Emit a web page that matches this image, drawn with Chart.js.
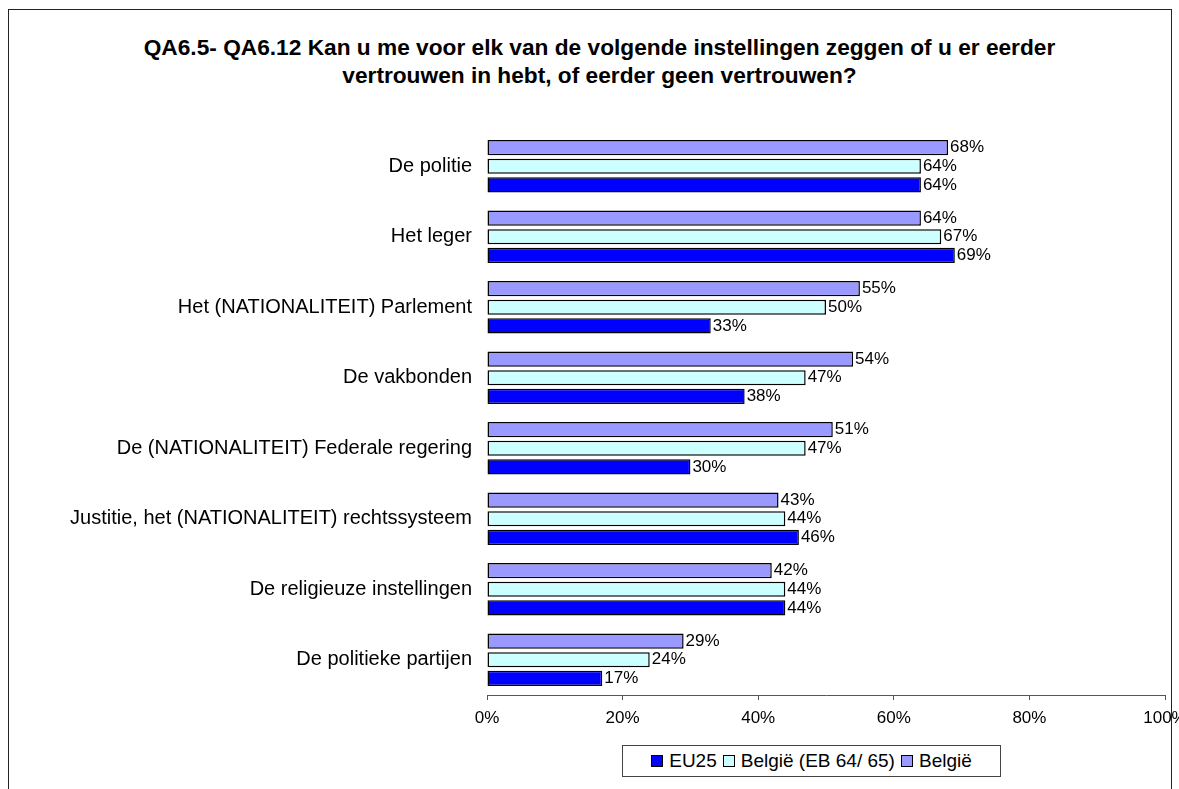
<!DOCTYPE html>
<html>
<head>
<meta charset="utf-8">
<script src="https://cdn.jsdelivr.net/npm/chart.js@4/dist/chart.umd.min.js"></script>
<style>
    html, body { margin: 0; padding: 0; background: #fff; }
    body { width: 1179px; height: 789px; position: relative; overflow: hidden; font-family: "Liberation Sans", Arial, sans-serif; }
    #frame { position: absolute; left: 8px; top: 9px; width: 1162px; height: 820px; border: 1px solid #222; }
    #title { position: absolute; left: 10px; width: 1179px; top: 33px; text-align: center; font-weight: bold; font-size: 22.7px; line-height: 28px; color: #000; }
    #wrap { position: absolute; left: 0; top: 0; width: 1179px; height: 789px; }
    #legend { position: absolute; left: 622px; top: 745px; width: 379px; height: 32px; border: 1px solid #444; box-sizing: border-box;
        display: flex; align-items: center; justify-content: center; font-size: 19px; color: #000; background: #fff; }
    .item { display: flex; align-items: center; margin: 0 3px; }
    .sw { width: 10px; height: 10px; border: 1px solid #000; margin-right: 6px; }
</style>
</head>
<body>
<div id="frame"></div>
<div id="title">QA6.5- QA6.12 Kan u me voor elk van de volgende instellingen zeggen of u er eerder<br>vertrouwen in hebt, of eerder geen vertrouwen?</div>
<div id="wrap"><canvas id="chart" width="1179" height="789"></canvas></div>
<div id="legend"></div>
<script>
// categorieen en waarden
const categories = [
    'De politie',
    'Het leger',
    'Het (NATIONALITEIT) Parlement',
    'De vakbonden',
    'De (NATIONALITEIT) Federale regering',
    'Justitie, het (NATIONALITEIT) rechtssysteem',
    'De religieuze instellingen',
    'De politieke partijen'
];
const belgie = [68, 64, 55, 54, 51, 43, 42, 29];
const belgieEB = [64, 67, 50, 47, 47, 44, 44, 24];
const eu25 = [64, 69, 33, 38, 30, 46, 44, 17];
const xTicks = [0, 20, 40, 60, 80, 100];

const seriesNames = ['België', 'België (EB 64/ 65)', 'EU25'];
const seriesColors = ['#9999FF', '#CCFFFF', '#0000FF'];

// labels met percentage rechts van de balk
const valueLabels = {
    id: 'valueLabels',
    afterDatasetsDraw: (chart) =>
    {
        const { ctx } = chart;
        ctx.save();
        ctx.font = '17px "Liberation Sans", Arial, sans-serif';
        ctx.fillStyle = '#000';
        ctx.textAlign = 'left';
        ctx.textBaseline = 'middle';
        chart.data.datasets.forEach((ds, i) =>
        {
            const meta = chart.getDatasetMeta(i);
            meta.data.forEach((bar, j) =>
            {
                ctx.fillText(ds.data[j] + '%', bar.x + 2, bar.y);
            });
        });
        ctx.restore();
    }
};

const ctx = document.getElementById('chart').getContext('2d');
new Chart(ctx, {
    type: 'bar',
    data: {
        labels: categories,
        datasets: [belgie, belgieEB, eu25].map((d, i) => ({
            label: seriesNames[i],
            data: d,
            backgroundColor: seriesColors[i],
            borderColor: '#000',
            borderWidth: 1.5,
            borderSkipped: false,
            barPercentage: 0.82,
            categoryPercentage: 0.79
        }))
    },
    options: {
        indexAxis: 'y',
        responsive: false,
        animation: false,
        layout: { padding: { top: 131, right: 14, left: 0, bottom: 0 } },
        plugins: {
            legend: { display: false },
            title: { display: false },
            tooltip: { enabled: false }
        },
        scales: {
            x: {
                min: 0,
                max: 100,
                afterFit: (scale) => { scale.height = 94; scale.paddingRight = 0; scale.paddingLeft = 0; },
                afterBuildTicks: (scale) => { scale.ticks = xTicks.map(v => ({ value: v })); },
                grid: { display: true, drawOnChartArea: false, drawTicks: true, tickLength: 5, color: '#555' },
                border: { display: true, color: '#555' },
                ticks: {
                    callback: (v) => v + '%',
                    color: '#000',
                    font: { family: '"Liberation Sans", Arial, sans-serif', size: 17 },
                    padding: 8,
                    maxRotation: 0
                }
            },
            y: {
                afterFit: (scale) => { scale.width = 487; },
                grid: { display: false },
                border: { display: false },
                ticks: {
                    color: '#000',
                    font: { family: '"Liberation Sans", Arial, sans-serif', size: 20 },
                    padding: 7
                }
            }
        }
    },
    plugins: [valueLabels]
});

// legenda in omgekeerde volgorde
const legend = document.getElementById('legend');
[2, 1, 0].forEach(i =>
{
    const item = document.createElement('div');
    item.className = 'item';
    item.innerHTML = '<span class="sw" style="background:' + seriesColors[i] + '"></span>' + seriesNames[i];
    legend.appendChild(item);
});
</script>
</body>
</html>
